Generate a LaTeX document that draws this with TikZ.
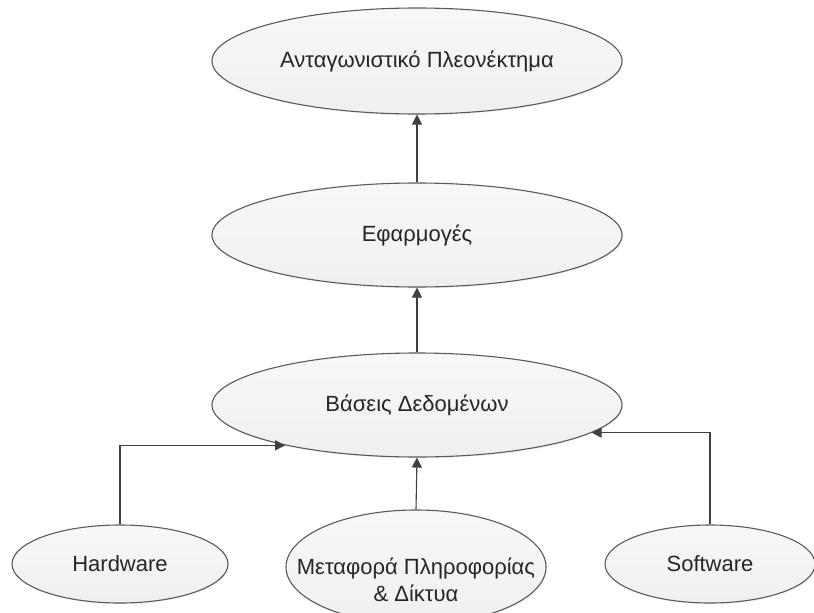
\documentclass[tikz,border=0pt]{standalone}
\usepackage{fontspec}
\setmainfont{Liberation Sans}
\usetikzlibrary{shapes.geometric,arrows.meta,shadows,calc}

\definecolor{edge}{HTML}{5A5A5A}
\definecolor{wire}{HTML}{404040}
\definecolor{ink}{HTML}{262626}

\tikzset{
  oval/.style={ellipse, draw=edge, line width=1.1pt, inner sep=0pt,
    top color=black!3, bottom color=black!6,
    drop shadow={opacity=0.10, shadow xshift=1.2pt, shadow yshift=-1.2pt}},
  txt/.style={text=ink, font=\fontsize{22}{27}\selectfont, align=center, inner sep=0pt},
  link/.style={draw=wire, line width=1.1pt,
    -{Triangle[length=10pt,width=10pt]}}
}

\begin{document}
\begin{tikzpicture}[x=1pt,y=-1pt]
  \useasboundingbox[fill=white] (0,0) rectangle (814,613);

  % ellipses
  \node[oval, minimum width=410pt, minimum height=106pt] (adv) at (417,61) {};
  \node[oval, minimum width=410pt, minimum height=104pt] (app) at (417,235) {};
  \node[oval, minimum width=410pt, minimum height=104pt] (db)  at (417,405) {};
  \node[oval, minimum width=216pt, minimum height=78pt]  (hw)  at (120,564) {};
  \node[oval, minimum width=260pt, minimum height=114pt] (net) at (416,567) {};
  \node[oval, minimum width=210pt, minimum height=78pt]  (sw)  at (710,564) {};

  % labels
  \node[txt] (advt) at (adv) {Ανταγωνιστικό Πλεονέκτημα};
  \node[txt] (appt) at (app) {Εφαρμογές};
  \node[txt] (dbt)  at (db)  {Βάσεις Δεδομένων};
  \node[txt] (hwt)  at (hw)  {Hardware};
  \node[txt] (nett) at ([yshift=-13pt]net.center) {Μεταφορά Πληροφορίας\\\& Δίκτυα};
  \node[txt] (swt)  at (sw)  {Software};

  % connectors
  \draw[link] (app.north) -- (adv.south);
  \draw[link] (db.north) -- (app.south);
  \draw[link] (net.north) -- (db.south);
  \draw[link] (hw.north) |- (db.197);
  \draw[link] (sw.north) |- (db.-9.5);
\end{tikzpicture}
\end{document}
